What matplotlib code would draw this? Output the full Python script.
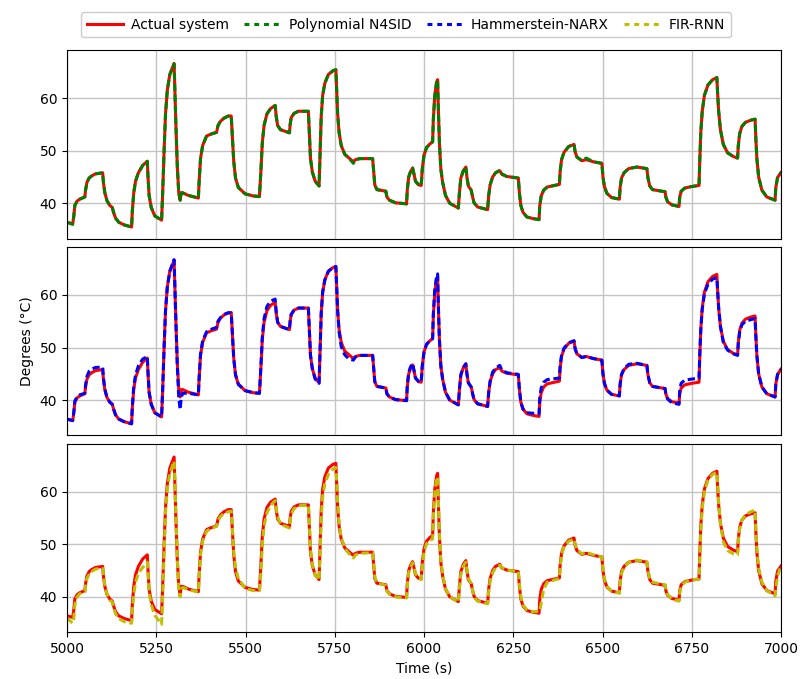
import matplotlib
matplotlib.use("Agg")
from matplotlib import pyplot as plt

# values (time in s, temperature in degC)
time_s = [5000, 5016, 5019, 5022, 5028, 5036, 5050, 5052, 5056, 5062,
          5069, 5080, 5100, 5102, 5106, 5112, 5120, 5127, 5130, 5136,
          5145, 5160, 5181, 5183, 5187, 5192, 5200, 5212, 5225, 5227,
          5230, 5236, 5246, 5265, 5268, 5272, 5276, 5281, 5288, 5300,
          5302, 5305, 5309, 5313, 5317, 5320, 5324, 5340, 5368, 5370,
          5374, 5380, 5391, 5405, 5419, 5423, 5430, 5440, 5452, 5460,
          5463, 5467, 5472, 5480, 5499, 5522, 5539, 5543, 5547, 5552,
          5560, 5570, 5583, 5586, 5590, 5598, 5623, 5625, 5628, 5636,
          5648, 5676, 5679, 5682, 5687, 5695, 5706, 5709, 5712, 5716,
          5722, 5732, 5745, 5753, 5755, 5758, 5762, 5768, 5778, 5790,
          5802, 5808, 5820, 5856, 5859, 5862, 5868, 5877, 5893, 5896,
          5903, 5920, 5951, 5953, 5957, 5962, 5968, 5972, 5976, 5985,
          5992, 5995, 6000, 6007, 6015, 6024, 6026, 6030, 6035, 6038,
          6040, 6043, 6047, 6052, 6060, 6072, 6096, 6099, 6103, 6110,
          6117, 6120, 6124, 6132, 6136, 6140, 6150, 6178, 6181, 6185,
          6192, 6200, 6212, 6218, 6232, 6264, 6267, 6271, 6277, 6288,
          6305, 6322, 6324, 6328, 6335, 6345, 6379, 6381, 6385, 6392,
          6405, 6420, 6423, 6428, 6442, 6454, 6474, 6498, 6501, 6505,
          6512, 6525, 6547, 6549, 6553, 6560, 6573, 6596, 6624, 6627,
          6632, 6640, 6675, 6677, 6682, 6694, 6714, 6716, 6720, 6730,
          6750, 6770, 6772, 6775, 6779, 6785, 6795, 6808, 6820, 6822,
          6825, 6830, 6838, 6850, 6866, 6878, 6880, 6884, 6890, 6900,
          6915, 6927, 6929, 6932, 6937, 6946, 6960, 6983, 6985, 6990,
          6997, 7000]

actual = [36.4, 36.1, 37.5, 39.6, 40.4, 40.8, 41.2, 42.5, 44.0, 44.8,
          45.2, 45.6, 45.8, 44.0, 42.0, 40.5, 39.6, 39.2, 38.4, 37.2,
          36.4, 35.9, 35.5, 38.5, 42.0, 44.2, 45.8, 47.2, 48.0, 45.0,
          41.5, 39.2, 37.6, 36.8, 42.0, 50.0, 57.0, 61.5, 64.5, 66.6,
          62.0, 55.0, 47.0, 42.0, 40.6, 42.0, 42.0, 41.5, 41.0, 44.0,
          48.5, 51.0, 52.8, 53.2, 53.5, 54.8, 55.6, 56.2, 56.6, 56.6,
          53.0, 48.0, 44.8, 43.0, 41.8, 41.4, 41.3, 46.0, 51.5, 54.8,
          57.0, 58.0, 58.6, 56.5, 54.8, 54.0, 53.4, 55.0, 56.3, 57.1,
          57.5, 57.5, 53.0, 48.5, 46.0, 44.2, 43.3, 50.0, 56.5, 60.5,
          62.8, 64.5, 65.2, 65.4, 62.0, 57.0, 53.5, 51.0, 49.3, 48.6,
          47.9, 48.3, 48.5, 48.5, 46.0, 43.5, 42.6, 42.5, 42.3, 41.2,
          40.6, 40.1, 39.9, 42.5, 45.0, 46.0, 46.7, 45.5, 44.2, 43.5,
          43.4, 46.5, 49.2, 50.6, 51.2, 51.7, 56.0, 60.5, 63.0, 63.5,
          58.0, 51.5, 46.5, 44.0, 41.5, 40.0, 39.1, 42.0, 44.8, 46.2,
          46.9, 45.0, 43.3, 42.5, 41.2, 40.1, 39.3, 38.8, 41.5, 43.5,
          45.0, 45.8, 46.2, 45.5, 45.1, 44.8, 42.0, 39.6, 38.3, 37.4,
          37.1, 36.9, 39.5, 41.4, 42.5, 43.1, 43.6, 46.0, 48.3, 49.7,
          50.8, 51.2, 49.8, 48.8, 48.1, 48.3, 47.9, 47.6, 45.0, 43.2,
          41.9, 41.1, 40.8, 43.0, 44.8, 45.8, 46.6, 46.9, 46.6, 44.8,
          43.3, 42.6, 42.2, 41.2, 40.3, 39.7, 39.4, 41.2, 42.3, 42.9,
          43.2, 43.4, 48.0, 53.5, 57.5, 60.5, 62.5, 63.5, 63.9, 61.0,
          57.5, 54.0, 51.2, 49.6, 48.9, 48.6, 51.0, 53.3, 54.6, 55.4,
          55.8, 56.0, 52.5, 48.5, 45.0, 42.5, 41.2, 40.6, 43.0, 44.9,
          45.6, 45.9]

n4sid = [36.4, 36.0, 37.5, 39.6, 40.4, 40.8, 41.2, 42.5, 44.0, 44.8,
         45.2, 45.6, 45.8, 44.0, 42.0, 40.5, 39.6, 39.2, 38.4, 37.2,
         36.4, 35.9, 35.5, 38.5, 42.0, 44.2, 45.8, 47.2, 48.0, 45.0,
         41.5, 39.2, 37.6, 36.8, 42.0, 50.0, 57.0, 61.5, 64.5, 66.5,
         62.0, 55.0, 47.0, 42.0, 40.6, 42.0, 42.0, 41.5, 41.0, 44.0,
         48.5, 51.0, 52.8, 53.2, 53.5, 54.8, 55.6, 56.2, 56.6, 56.6,
         53.0, 48.0, 44.8, 43.0, 41.8, 41.4, 41.3, 46.0, 51.5, 54.8,
         57.0, 58.0, 58.6, 56.5, 54.8, 54.0, 53.4, 55.0, 56.3, 57.1,
         57.5, 57.5, 53.0, 48.5, 46.0, 44.2, 43.3, 50.0, 56.5, 60.5,
         62.8, 64.5, 65.2, 65.4, 62.0, 57.0, 53.5, 51.0, 49.3, 48.6,
         47.6, 48.3, 48.5, 48.5, 46.0, 43.5, 42.6, 42.5, 42.3, 41.2,
         40.6, 40.1, 39.9, 42.5, 45.0, 46.0, 46.7, 45.5, 44.2, 43.5,
         43.4, 46.5, 49.2, 50.6, 51.2, 51.7, 56.0, 60.5, 63.0, 63.5,
         58.0, 51.5, 46.5, 44.0, 41.5, 40.0, 39.1, 42.0, 44.8, 46.2,
         46.9, 45.0, 43.3, 42.5, 41.2, 40.1, 39.3, 38.8, 41.5, 43.5,
         45.0, 45.8, 46.3, 45.6, 45.1, 44.8, 42.0, 39.6, 38.3, 37.4,
         37.1, 36.9, 39.5, 41.4, 42.5, 43.1, 43.6, 46.0, 48.3, 49.7,
         50.8, 51.2, 49.8, 48.8, 48.1, 48.6, 47.9, 47.6, 45.0, 43.2,
         41.9, 41.1, 40.8, 43.0, 44.8, 45.8, 46.6, 46.9, 46.6, 44.8,
         43.3, 42.6, 42.2, 41.2, 40.3, 39.7, 39.4, 41.2, 42.3, 42.9,
         43.2, 43.4, 48.0, 53.5, 57.5, 60.5, 62.5, 63.5, 63.9, 61.0,
         57.5, 54.0, 51.2, 49.6, 48.9, 48.6, 51.0, 53.3, 54.6, 55.4,
         55.8, 56.0, 52.5, 48.5, 45.0, 42.5, 41.2, 40.6, 43.0, 44.9,
         45.6, 45.9]

narx = [36.4, 36.1, 37.6, 39.8, 40.6, 41.0, 41.3, 42.8, 44.5, 45.5,
        45.9, 46.2, 46.3, 44.3, 42.1, 40.5, 39.6, 39.2, 38.4, 37.2,
        36.4, 35.9, 35.5, 38.8, 42.6, 44.8, 46.5, 47.8, 48.3, 45.2,
        41.5, 39.2, 37.6, 36.8, 42.0, 50.0, 57.0, 61.5, 64.5, 66.7,
        62.0, 55.0, 46.5, 40.5, 38.2, 40.5, 41.3, 41.3, 41.0, 44.0,
        48.7, 51.3, 53.0, 53.5, 53.8, 55.0, 55.7, 56.3, 56.6, 56.6,
        53.0, 48.0, 44.8, 43.0, 41.8, 41.4, 41.3, 46.3, 52.0, 55.5,
        57.8, 58.8, 59.2, 56.8, 54.8, 54.0, 53.4, 55.0, 56.3, 57.1,
        57.5, 57.5, 53.0, 48.5, 46.0, 44.0, 43.2, 50.0, 56.5, 60.5,
        62.8, 64.5, 65.2, 65.4, 62.0, 57.0, 53.0, 50.2, 48.6, 47.8,
        47.6, 48.2, 48.5, 48.5, 46.0, 43.5, 42.6, 42.5, 42.3, 41.2,
        40.6, 40.1, 39.9, 42.7, 45.3, 46.3, 47.0, 45.6, 44.2, 43.5,
        43.4, 46.5, 49.2, 50.6, 51.2, 51.7, 56.5, 61.0, 63.5, 64.0,
        58.0, 51.5, 46.5, 44.0, 41.5, 40.0, 39.1, 42.0, 44.8, 46.2,
        46.9, 45.0, 43.3, 42.5, 41.2, 40.1, 39.3, 38.8, 41.5, 43.6,
        45.3, 46.1, 46.6, 45.7, 45.2, 44.9, 42.0, 39.6, 38.3, 37.6,
        37.5, 37.4, 40.5, 42.3, 43.4, 43.9, 44.2, 46.5, 48.5, 49.9,
        50.9, 51.3, 49.8, 48.8, 48.1, 48.3, 47.9, 47.6, 45.0, 43.2,
        41.9, 41.1, 40.8, 43.0, 44.9, 46.0, 46.8, 47.0, 46.6, 44.8,
        43.3, 42.6, 42.2, 41.2, 40.2, 39.5, 39.2, 42.0, 43.2, 43.8,
        44.0, 44.2, 48.5, 53.5, 57.3, 60.2, 62.0, 63.0, 63.3, 60.8,
        57.5, 54.0, 51.0, 49.5, 48.8, 48.5, 50.8, 53.0, 54.3, 55.0,
        55.3, 55.5, 52.3, 48.5, 45.0, 42.5, 41.2, 40.6, 43.0, 44.9,
        45.6, 45.9]

fir_rnn = [36.0, 35.0, 35.8, 38.5, 40.0, 40.6, 41.0, 42.0, 43.5, 44.3,
           44.8, 45.3, 45.4, 44.2, 42.3, 40.6, 39.4, 39.0, 38.0, 36.8,
           35.9, 35.3, 35.0, 37.5, 40.5, 42.8, 44.5, 45.6, 46.6, 44.5,
           41.0, 38.5, 36.5, 34.8, 40.0, 48.5, 56.0, 60.5, 63.5, 65.8,
           62.5, 55.5, 47.5, 41.0, 40.0, 41.5, 41.8, 41.4, 40.9, 43.5,
           48.0, 50.6, 52.5, 53.1, 53.4, 54.5, 55.3, 55.9, 56.2, 56.3,
           53.4, 48.6, 45.5, 43.5, 41.6, 41.2, 41.2, 44.5, 49.8, 53.5,
           56.0, 57.4, 58.3, 56.8, 55.2, 53.8, 53.1, 54.5, 55.8, 56.8,
           57.3, 57.5, 53.5, 49.0, 46.2, 44.2, 43.2, 48.5, 55.0, 59.0,
           61.5, 63.3, 64.3, 64.6, 62.5, 57.8, 54.0, 51.3, 49.2, 48.2,
           47.4, 48.0, 48.3, 48.4, 46.3, 43.8, 42.7, 42.5, 42.2, 41.1,
           40.5, 40.0, 39.8, 42.0, 44.6, 45.7, 46.5, 45.6, 44.4, 43.6,
           43.3, 45.8, 48.6, 50.1, 50.7, 51.0, 55.0, 59.8, 62.4, 62.8,
           58.3, 52.0, 47.0, 44.3, 41.6, 40.0, 39.0, 41.5, 44.3, 45.9,
           46.6, 45.2, 43.5, 42.5, 41.2, 40.0, 39.2, 38.7, 41.0, 43.0,
           44.6, 45.5, 46.0, 45.6, 45.1, 44.8, 42.4, 40.0, 38.5, 37.5,
           37.2, 37.2, 37.5, 38.8, 41.5, 42.8, 43.5, 45.5, 48.0, 49.5,
           50.6, 51.0, 50.0, 49.0, 48.2, 48.5, 48.0, 47.6, 45.3, 43.5,
           42.0, 41.1, 40.7, 42.5, 44.5, 45.6, 46.6, 47.0, 46.7, 45.0,
           43.6, 42.8, 42.3, 41.5, 40.4, 39.6, 39.2, 40.8, 42.0, 42.8,
           43.2, 43.4, 47.0, 52.5, 56.8, 60.0, 62.2, 63.3, 63.7, 61.5,
           58.0, 54.0, 50.5, 48.8, 48.2, 48.0, 50.5, 53.0, 54.6, 55.6,
           56.2, 56.5, 53.0, 49.0, 45.5, 42.8, 41.2, 40.2, 41.5, 44.0,
           45.4, 45.8]

legend_labels = ['Actual system', 'Polynomial N4SID', 'Hammerstein-NARX', 'FIR-RNN']
model_data = [(n4sid, 'g'), (narx, 'b'), (fir_rnn, 'y')]


def plot_panel(ax: plt.Axes, model_y: list, color: str):
    """Actual system in red, one model dashed on top."""
    ax.plot(time_s, actual, color='r', lw=2.2)
    ax.plot(time_s, model_y, color=color, lw=2.2, linestyle='--', dashes=(2.4, 1.2))
    ax.set_ylim(33.3, 69.1)
    ax.set_yticks([40, 50, 60])
    ax.grid(True, color='#c4c4c4', lw=1.0)
    ax.set_axisbelow(True)


fig, axes = plt.subplots(3, 1, sharex=True, figsize=(8.02, 6.79), dpi=100)
fig.subplots_adjust(left=0.0835, right=0.974, top=0.926, bottom=0.069, hspace=0.045)

for ax, (model_y, color) in zip(axes, model_data):
    plot_panel(ax, model_y, color)

axes[0].set_xlim(5000, 7000)
axes[2].set_xticks([5000, 5250, 5500, 5750, 6000, 6250, 6500, 6750, 7000])
# upper panels: no tick marks under the shared x axis
for ax in axes[:2]:
    ax.tick_params(axis='x', bottom=False)
axes[2].set_xlabel('Time (s)')
axes[1].set_ylabel('Degrees (°C)')

handles = [plt.Line2D([], [], color='r', lw=2.2)]
for _, color in model_data:
    handles.append(plt.Line2D([], [], color=color, lw=2.2, linestyle='--', dashes=(1.6, 1.6)))
fig.legend(handles, legend_labels, loc='upper center', bbox_to_anchor=(0.506, 0.992),
           ncol=4, fontsize=10, framealpha=1.0, edgecolor='#cccccc',
           handlelength=2.6, handletextpad=0.6, columnspacing=1.1)

plt.savefig("out.png", dpi=100)
